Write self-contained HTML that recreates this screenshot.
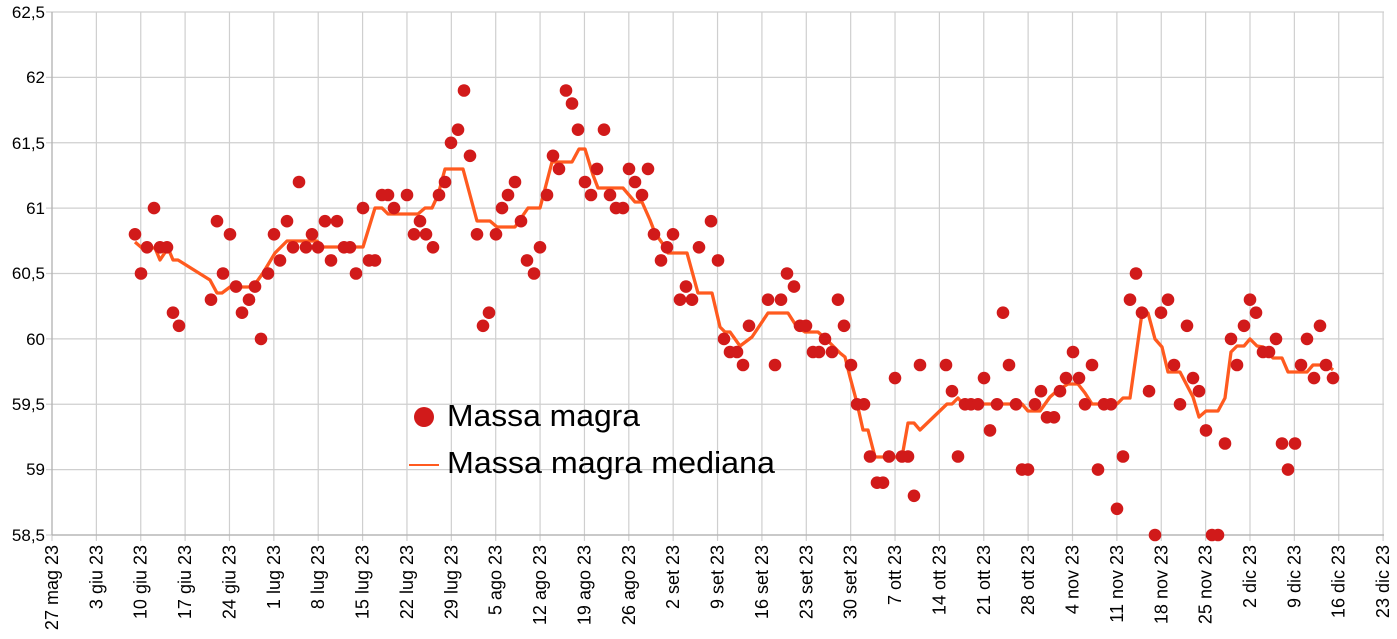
<!DOCTYPE html>
<html><head><meta charset="utf-8"><style>html,body{margin:0;padding:0;background:#fff}svg{display:block}text{font-family:"Liberation Sans",Arial,sans-serif;fill:#000}</style></head>
<body>
<svg id="s" width="1397" height="639" viewBox="0 0 1397 639">
<g id="grid" stroke="#cfcfcf" stroke-width="1.2"></g>
<g font-size="17" text-anchor="end">
<text x="45" y="18">62,5</text><text x="45" y="83">62</text><text x="45" y="149">61,5</text><text x="45" y="214">61</text><text x="45" y="279">60,5</text><text x="45" y="345">60</text><text x="45" y="410">59,5</text><text x="45" y="475">59</text><text x="45" y="541">58,5</text>
</g>
<g id="xl" font-size="18" text-anchor="end">
<text transform="translate(58,545) rotate(-90)">27 mag 23</text>
<text transform="translate(102.4,545) rotate(-90)">3 giu 23</text>
<text transform="translate(146.7,545) rotate(-90)">10 giu 23</text>
<text transform="translate(191.1,545) rotate(-90)">17 giu 23</text>
<text transform="translate(235.5,545) rotate(-90)">24 giu 23</text>
<text transform="translate(279.9,545) rotate(-90)">1 lug 23</text>
<text transform="translate(324.2,545) rotate(-90)">8 lug 23</text>
<text transform="translate(368.6,545) rotate(-90)">15 lug 23</text>
<text transform="translate(413,545) rotate(-90)">22 lug 23</text>
<text transform="translate(457.3,545) rotate(-90)">29 lug 23</text>
<text transform="translate(501.7,545) rotate(-90)">5 ago 23</text>
<text transform="translate(546.1,545) rotate(-90)">12 ago 23</text>
<text transform="translate(590.4,545) rotate(-90)">19 ago 23</text>
<text transform="translate(634.8,545) rotate(-90)">26 ago 23</text>
<text transform="translate(679.2,545) rotate(-90)">2 set 23</text>
<text transform="translate(723.6,545) rotate(-90)">9 set 23</text>
<text transform="translate(767.9,545) rotate(-90)">16 set 23</text>
<text transform="translate(812.3,545) rotate(-90)">23 set 23</text>
<text transform="translate(856.7,545) rotate(-90)">30 set 23</text>
<text transform="translate(901,545) rotate(-90)">7 ott 23</text>
<text transform="translate(945.4,545) rotate(-90)">14 ott 23</text>
<text transform="translate(989.8,545) rotate(-90)">21 ott 23</text>
<text transform="translate(1034.1,545) rotate(-90)">28 ott 23</text>
<text transform="translate(1078.5,545) rotate(-90)">4 nov 23</text>
<text transform="translate(1122.9,545) rotate(-90)">11 nov 23</text>
<text transform="translate(1167.3,545) rotate(-90)">18 nov 23</text>
<text transform="translate(1211.6,545) rotate(-90)">25 nov 23</text>
<text transform="translate(1256,545) rotate(-90)">2 dic 23</text>
<text transform="translate(1300.4,545) rotate(-90)">9 dic 23</text>
<text transform="translate(1344.7,545) rotate(-90)">16 dic 23</text>
<text transform="translate(1389.1,545) rotate(-90)">23 dic 23</text>
</g>
<polyline fill="none" stroke="#ff5a1f" stroke-width="3.3" stroke-linejoin="round" points="135,242 142,248 155,248 160,260 168,248 173,260 178,260 210,280 217,293 222,293 230,287 253,287 263,273 275,253 287,241 317,241 323,247 363,247 375,208 382,208 388,214 418,214 425,208 432,208 438,195 445,169 463,169 477,221 490,221 497,227 515,227 528,208 540,208 552,162 572,162 579,149 585,149 593,175 598,188 623,188 635,202 642,202 650,220 655,233 665,247 668,253 687,253 698,293 712,293 720,327 725,332 730,332 740,346 752,337 768,313 788,313 797,327 805,332 818,332 827,340 840,353 845,357 850,377 857,403 863,430 868,430 875,457 902,457 908,423 914,423 920,430 947,404 952,404 958,398 963,404 1022,404 1028,411 1040,411 1050,397 1058,390 1068,384 1078,384 1085,393 1092,404 1117,404 1123,398 1130,398 1142,313 1148,313 1155,339 1162,347 1168,372 1180,372 1193,397 1199,417 1206,411 1218,411 1225,398 1231,352 1237,346 1244,346 1250,339 1257,346 1263,347 1273,358 1282,358 1288,372 1307,372 1313,365 1327,365 1333,370"/>
<g id="dots" fill="#d11a1a"></g>
<circle cx="424" cy="417" r="10" fill="#d11a1a"/>
<text x="447" y="426" font-size="31" textLength="193" lengthAdjust="spacingAndGlyphs">Massa magra</text>
<line x1="409" y1="465" x2="439" y2="465" stroke="#ff5a1f" stroke-width="2"/>
<text x="447" y="473" font-size="31" textLength="328" lengthAdjust="spacingAndGlyphs">Massa magra mediana</text>
</svg>
<script>
var g=document.getElementById('grid'),ns='http://www.w3.org/2000/svg';
function ln(x1,y1,x2,y2,c){var l=document.createElementNS(ns,'line');l.setAttribute('x1',x1);l.setAttribute('y1',y1);l.setAttribute('x2',x2);l.setAttribute('y2',y2);if(c)l.setAttribute('stroke',c);g.appendChild(l);}
for(var i=0;i<=8;i++){var y=12+i*65.375;ln(46,y,1384,y);}
for(var i=0;i<=30;i++){var x=52+i*44.37;ln(x,12,x,541);}
ln(52,12,52,535,'#b0b0b0');ln(52,535,1384,535,'#b0b0b0');
var d=[[135,60.8],[141,60.5],[147,60.7],[154,61.0],[160,60.7],[167,60.7],[173,60.2],[179,60.1],[211,60.3],[217,60.9],[223,60.5],[230,60.8],[236,60.4],[242,60.2],[249,60.3],[255,60.4],[261,60.0],[268,60.5],[274,60.8],[280,60.6],[287,60.9],[293,60.7],[299,61.2],[306,60.7],[312,60.8],[318,60.7],[325,60.9],[331,60.6],[337,60.9],[344,60.7],[350,60.7],[356,60.5],[363,61.0],[369,60.6],[375,60.6],[382,61.1],[388,61.1],[394,61.0],[407,61.1],[414,60.8],[420,60.9],[426,60.8],[433,60.7],[439,61.1],[445,61.2],[451,61.5],[458,61.6],[464,61.9],[470,61.4],[477,60.8],[483,60.1],[489,60.2],[496,60.8],[502,61.0],[508,61.1],[515,61.2],[521,60.9],[527,60.6],[534,60.5],[540,60.7],[547,61.1],[553,61.4],[559,61.3],[566,61.9],[572,61.8],[578,61.6],[585,61.2],[591,61.1],[597,61.3],[604,61.6],[610,61.1],[616,61.0],[623,61.0],[629,61.3],[635,61.2],[642,61.1],[648,61.3],[654,60.8],[661,60.6],[667,60.7],[673,60.8],[680,60.3],[686,60.4],[692,60.3],[699,60.7],[711,60.9],[718,60.6],[724,60.0],[730,59.9],[737,59.9],[743,59.8],[749,60.1],[768,60.3],[775,59.8],[781,60.3],[787,60.5],[794,60.4],[800,60.1],[806,60.1],[813,59.9],[819,59.9],[825,60.0],[832,59.9],[838,60.3],[844,60.1],[851,59.8],[857,59.5],[864,59.5],[870,59.1],[877,58.9],[883,58.9],[889,59.1],[895,59.7],[902,59.1],[908,59.1],[914,58.8],[920,59.8],[946,59.8],[952,59.6],[958,59.1],[965,59.5],[971,59.5],[978,59.5],[984,59.7],[990,59.3],[997,59.5],[1003,60.2],[1009,59.8],[1016,59.5],[1022,59.0],[1028,59.0],[1035,59.5],[1041,59.6],[1047,59.4],[1054,59.4],[1060,59.6],[1066,59.7],[1073,59.9],[1079,59.7],[1085,59.5],[1092,59.8],[1098,59.0],[1104,59.5],[1111,59.5],[1117,58.7],[1123,59.1],[1130,60.3],[1136,60.5],[1142,60.2],[1149,59.6],[1155,58.5],[1161,60.2],[1168,60.3],[1174,59.8],[1180,59.5],[1187,60.1],[1193,59.7],[1199,59.6],[1206,59.3],[1212,58.5],[1218,58.5],[1225,59.2],[1231,60.0],[1237,59.8],[1244,60.1],[1250,60.3],[1256,60.2],[1263,59.9],[1269,59.9],[1276,60.0],[1282,59.2],[1288,59.0],[1295,59.2],[1301,59.8],[1307,60.0],[1314,59.7],[1320,60.1],[1326,59.8],[1333,59.7]];
var dg=document.getElementById('dots');
d.forEach(function(p){var c=document.createElementNS(ns,'circle');c.setAttribute('cx',p[0]);c.setAttribute('cy',(535-(p[1]-58.5)*130.75).toFixed(1));c.setAttribute('r',6.3);dg.appendChild(c);});
</script>
</body></html>
